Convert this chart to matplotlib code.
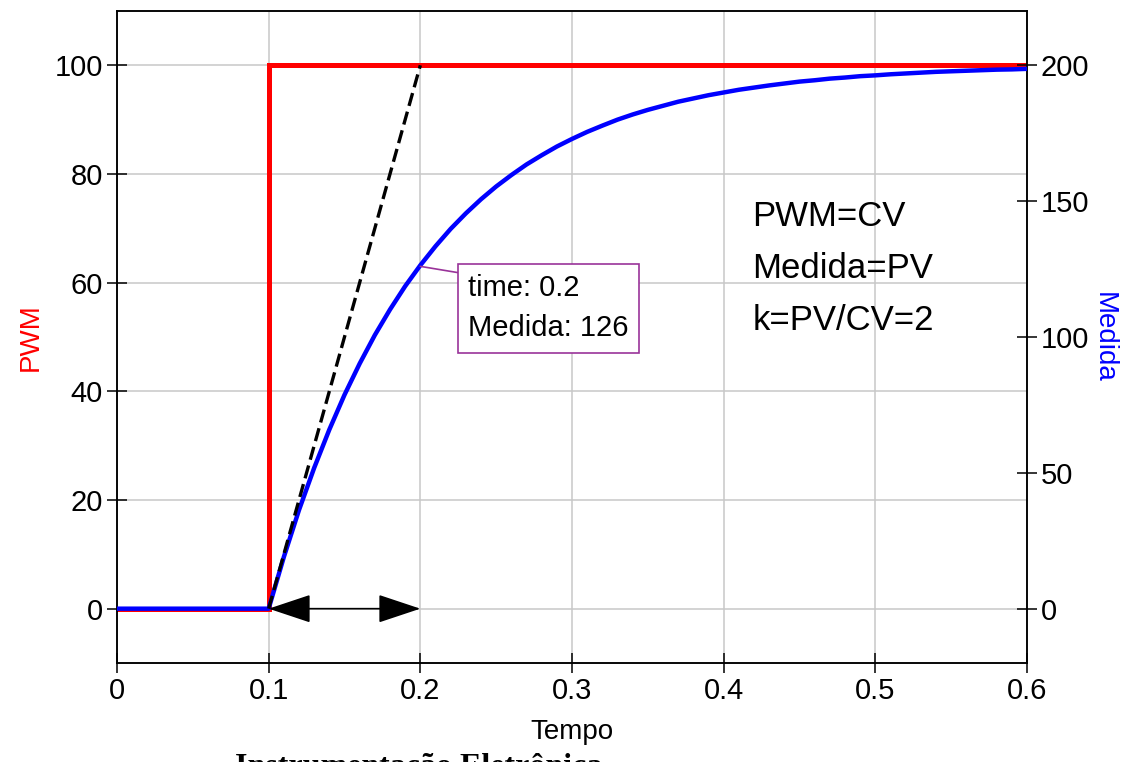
"""Step response: PWM (CV) and Medida (PV) vs time, with tangent at t=0.1."""

import matplotlib
matplotlib.use("Agg")
import matplotlib.pyplot as plt

plt.rcParams["font.family"] = ["Liberation Sans", "DejaVu Sans"]

# ---------------------------------------------------------------------------
# Data
# ---------------------------------------------------------------------------
pwm_time = [0.0, 0.1, 0.1, 0.6]
pwm_value = [0, 0, 100, 100]

medida_time = [0.0] + [round(0.10 + 0.01 * i, 2) for i in range(51)]
medida_value = [
    0,
    0, 19.0, 36.3, 51.8, 65.9, 78.7, 90.2, 100.7, 110.1, 118.7,
    126.4, 133.4, 139.8, 145.5, 150.7, 155.4, 159.6, 163.5, 166.9, 170.1,
    172.9, 175.5, 177.8, 180.0, 181.9, 183.6, 185.1, 186.6, 187.8, 189.0,
    190.0, 191.0, 191.8, 192.6, 193.3, 194.0, 194.5, 195.1, 195.5, 196.0,
    196.3, 196.7, 197.0, 197.3, 197.6, 197.8, 198.0, 198.2, 198.4, 198.5,
    198.7,
]

tangent_time = [0.1, 0.2]
tangent_medida = [0, 200]

tip_time = 0.2
tip_medida = 126

x_ticks = [0, 0.1, 0.2, 0.3, 0.4, 0.5, 0.6]
x_tick_labels = ["0", "0.1", "0.2", "0.3", "0.4", "0.5", "0.6"]
pwm_ticks = [0, 20, 40, 60, 80, 100]
medida_ticks = [0, 50, 100, 150, 200]

notes = ["PWM=CV", "Medida=PV", "k=PV/CV=2"]

RED = "#ff0000"
BLUE = "#0000ff"
PURPLE = "#993399"
GRID = "#c8c8c8"

# ---------------------------------------------------------------------------
# Figure
# ---------------------------------------------------------------------------
fig = plt.figure(figsize=(11.28, 7.62), dpi=100)
ax = fig.add_axes([0.1037, 0.1299, 0.8068, 0.8557])
ax2 = ax.twinx()

ax.set_xlim(0, 0.6)
ax.set_ylim(-10, 110)
ax2.set_ylim(-20, 220)

ax.set_xticks(x_ticks)
ax.set_xticklabels(x_tick_labels)
ax.set_yticks(pwm_ticks)
ax2.set_yticks(medida_ticks)

ax.grid(True, color=GRID, linewidth=1.1)
ax.set_axisbelow(True)

for a in (ax, ax2):
    for spine in a.spines.values():
        spine.set_color("black")
        spine.set_linewidth(1.1)
ax.tick_params(axis="both", direction="inout", length=14, width=1.1,
               labelsize=21, pad=3, top=False, right=False)
ax2.tick_params(axis="y", direction="inout", length=14, width=1.1,
                labelsize=21, pad=3)

ax.set_xlabel("Tempo", fontsize=20, labelpad=10)
ax.set_ylabel("PWM", fontsize=20, color=RED, labelpad=8)
ax2.set_ylabel("Medida", fontsize=20, color=BLUE, rotation=270, labelpad=20)

# PWM step (left axis)
ax.plot(pwm_time, pwm_value, color=RED, linewidth=3.6, solid_joinstyle="miter")

# Medida response (right axis)
ax2.plot(medida_time, medida_value, color=BLUE, linewidth=3.2, zorder=3)

# Tangent line and time-constant arrow
ax2.plot(tangent_time, tangent_medida, color="black", linewidth=2.4,
         dashes=(4, 1.8), zorder=4)
ax2.annotate(
    "", xy=(tangent_time[1], 0), xytext=(tangent_time[0], 0),
    arrowprops=dict(arrowstyle="<|-|>,head_length=0.45,head_width=0.15",
                    mutation_scale=60, color="black", lw=1.2,
                    shrinkA=0, shrinkB=0),
    zorder=5,
)

# Data tip
ax2.annotate(
    f"time: {tip_time}\nMedida: {tip_medida}",
    xy=(tip_time, tip_medida), xytext=(48, -8), textcoords="offset pixels",
    ha="left", va="top", fontsize=21, linespacing=1.55,
    bbox=dict(boxstyle="square,pad=0.35", fc="white", ec=PURPLE, lw=1.2),
    arrowprops=dict(arrowstyle="-", color=PURPLE, lw=1.2,
                    shrinkA=0, shrinkB=0, relpos=(0, 1)),
    zorder=6,
)

# Notes
for i, line in enumerate(notes):
    ax.text(0.698, 0.685 - 0.080 * i, line, transform=ax.transAxes,
            fontsize=25, ha="left", va="center")

# Caption cut at the page edge, as in the source page
fig.text(0.208, -0.017, "Instrumentação Eletrônica", fontsize=23,
         family="Liberation Serif", weight="bold", ha="left", va="baseline")

fig.savefig("out.png", dpi=100)
